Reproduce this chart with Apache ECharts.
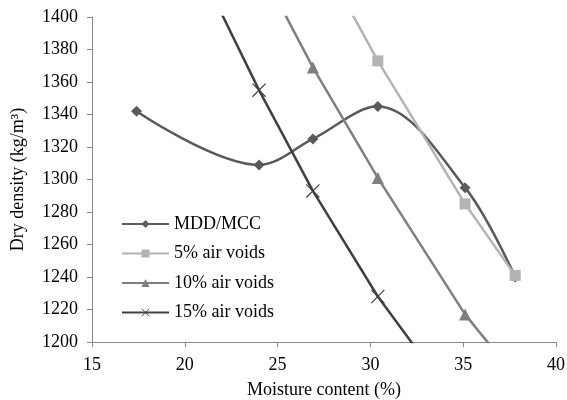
<!DOCTYPE html>
<html>
<head>
<meta charset="utf-8">
<script src="https://cdn.jsdelivr.net/npm/echarts@6/dist/echarts.min.js"></script>
<style>
  html, body { margin: 0; padding: 0; background: #fff; }
  #chart { width: 567px; height: 400px; }
</style>
</head>
<body>
<div id="chart"></div>
<script>
// moisture content (%) shared by all series
const moisture = [17.4, 24.0, 26.9, 30.4, 35.1, 37.8];
// dry density (kg/m3); points outside 1200-1400 are clipped by the axis
const mddMcc = [1342, 1309, 1325, 1345, 1295, 1240];
const airVoids5 = [null, null, 1446, 1373, 1285, 1241];
const airVoids10 = [null, 1432, 1369, 1301, 1217, 1179];
const airVoids15 = [1509, 1355, 1293, 1228, 1155, 1120];
const seriesNames = ['MDD/MCC', '5% air voids', '10% air voids', '15% air voids'];

const font = '"Liberation Serif", "Times New Roman", serif';
const axisGray = '#868686';

const pairs = (ys) => moisture.map((x, i) => [x, ys[i]]).filter(p => p[1] !== null);

// thin cross marker
const crossPath = 'path://M0,0.6L0.6,0L10,9.4L9.4,10Z M9.4,0L10,0.6L0.6,10L0,9.4Z';

const chart = echarts.init(document.getElementById('chart'));

const lineSeries = (name, data, color, symbol, size, smooth) => ({
  name: name,
  type: 'line',
  data: pairs(data),
  smooth: smooth,
  clip: true,
  symbol: symbol,
  symbolSize: size,
  showSymbol: true,
  lineStyle: { color: color, width: 2.5 },
  itemStyle: { color: color },
  emphasis: { disabled: true }
});

const option = {
  animation: false,
  grid: { left: 92, right: 11, top: 17, bottom: 58, outerBoundsMode: 'none' },
  legend: {
    orient: 'vertical',
    left: 116,
    top: 210,
    itemWidth: 47,
    itemHeight: 10,
    itemGap: 11.5,
    textStyle: { fontFamily: font, fontSize: 18, color: '#000' },
    data: seriesNames
  },
  xAxis: {
    type: 'value',
    min: 15,
    max: 40,
    interval: 5,
    name: 'Moisture content (%)',
    nameLocation: 'middle',
    nameGap: 39,
    nameTextStyle: { fontFamily: font, fontSize: 18, color: '#000' },
    axisLine: { lineStyle: { color: axisGray, width: 1 } },
    axisTick: { show: true, length: 5, lineStyle: { color: axisGray } },
    axisLabel: { fontFamily: font, fontSize: 18, color: '#000', margin: 14, formatter: v => String(v) },
    splitLine: { show: false }
  },
  yAxis: {
    type: 'value',
    min: 1200,
    max: 1400,
    interval: 20,
    name: 'Dry density (kg/m³)',
    nameLocation: 'middle',
    nameGap: 65,
    nameTextStyle: { fontFamily: font, fontSize: 18, color: '#000' },
    axisLine: { show: true, lineStyle: { color: axisGray, width: 1 } },
    axisTick: { show: true, length: 5, lineStyle: { color: axisGray } },
    axisLabel: { fontFamily: font, fontSize: 18, color: '#000', margin: 14, formatter: v => String(v) },
    splitLine: { show: false }
  },
  series: [
    lineSeries(seriesNames[0], mddMcc, '#5a5a5a', 'diamond', 11, 0.35),
    lineSeries(seriesNames[1], airVoids5, '#b3b3b3', 'rect', 11, false),
    lineSeries(seriesNames[2], airVoids10, '#7f7f7f', 'triangle', 12, false),
    lineSeries(seriesNames[3], airVoids15, '#404040', crossPath, 14, false)
  ]
};

chart.setOption(option);
</script>
</body>
</html>
